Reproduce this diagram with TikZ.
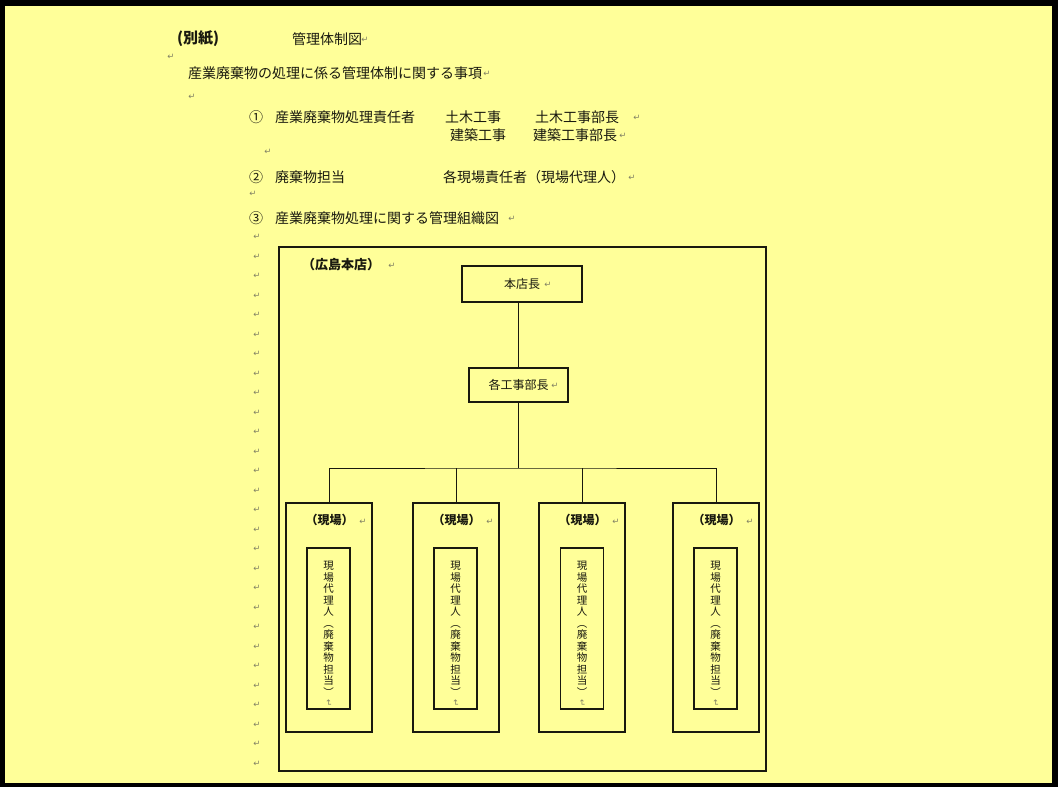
\documentclass[tikz,border=0pt]{standalone}
\usepackage{fontspec}
\setmainfont{Noto Sans CJK JP}
\newfontfamily\jp{Noto Sans CJK JP}
\newfontfamily\dv{DejaVu Sans}
\definecolor{bgyellow}{RGB}{255,255,153}
\definecolor{markgray}{RGB}{130,130,100}
\definecolor{ink}{RGB}{25,25,15}
\begin{document}
\begin{tikzpicture}[x=1pt,y=-1pt,
  txt/.style={inner sep=0pt, anchor=west, text=ink, font=\jp\fontsize{14}{16}\selectfont},
  btxt/.style={inner sep=0pt, anchor=west, text=ink, font=\jp\bfseries\fontsize{13}{15}\selectfont},
  ret/.style={inner sep=0pt, text=markgray, font=\dv\fontsize{8.5}{9}\selectfont},
  lbox/.style={draw=ink, line width=1.3pt, inner sep=0pt, text=ink, font=\jp\fontsize{12}{14}\selectfont},
  framebox/.style={draw=ink, line width=1.6pt, inner sep=0pt},
  sitebox/.style={draw=ink, line width=2pt, inner sep=0pt, minimum width=86pt, minimum height=229pt},
  innerbox/.style={draw=ink, line width=1.2pt, inner sep=0pt, minimum width=43pt, minimum height=161pt},
  vtext/.style={inner sep=0pt, align=center, text=ink, font=\jp\fontsize{10.5}{11.5}\selectfont},
  conn/.style={draw=ink, line width=0.9pt}]
% page and frame
\useasboundingbox (0,0) rectangle (1058,787);
\fill[black] (0,0) rectangle (1058,787);
\fill[bgyellow] (5,6) rectangle (1052,783);

% header texts
\node[btxt, font=\jp\bfseries\fontsize{15}{17}\selectfont] (betsushi) at (177,39) {(別紙)};
\node[txt] (title) at (292,39) {管理体制図};
\node[ret] (r-title) at (365,40) {↵};
\node[ret] (r-a) at (171,57) {↵};
\node[txt] (jiko) at (188,73) {産業廃棄物の処理に係る管理体制に関する事項};
\node[ret] (r-jiko) at (487,74) {↵};
\node[ret] (r-b) at (192,97) {↵};

% item 1
\node[txt] (n1) at (249,117) {①};
\node[txt] (sekinin) at (275,117) {産業廃棄物処理責任者};
\node[txt] (doboku) at (445,117) {土木工事};
\node[txt] (dobokubu) at (535,117) {土木工事部長};
\node[ret] (r-1a) at (637,118) {↵};
\node[txt] (kenchiku) at (450,135) {建築工事};
\node[txt] (kenchikubu) at (533,135) {建築工事部長};
\node[ret] (r-1b) at (623,136) {↵};
\node[ret] (r-c) at (268,152) {↵};

% item 2
\node[txt] (n2) at (249,177) {②};
\node[txt] (tanto) at (275,177) {廃棄物担当};
\node[txt] (kaku) at (443,177) {各現場責任者（現場代理人）};
\node[ret] (r-2) at (632,178) {↵};
\node[ret] (r-d) at (253,194) {↵};

% item 3
\node[txt] (n3) at (249,218) {③};
\node[txt] (soshiki) at (275,218) {産業廃棄物処理に関する管理組織図};
\node[ret] (r-3) at (512,219) {↵};

% column of paragraph marks
\foreach \k in {0,...,27} {
  \node[ret] (col\k) at (257,237+19.5*\k) {↵};
}

% organisation chart
\node[framebox, minimum width=487pt, minimum height=524pt] (honten) at (522.5,509) {};
\node[btxt] (hontenlabel) at (302,265) {（広島本店）};
\node[ret] (r-hl) at (392,266) {↵};

\node[lbox, minimum width=120pt, minimum height=36pt] (hcho) at (522,284) {本店長};
\node[ret] (r-hcho) at (548,285) {↵};
\node[lbox, minimum width=99pt, minimum height=34pt] (bucho) at (518.5,385) {各工事部長};
\node[ret] (r-bucho) at (555,386) {↵};

\foreach \i/\sx/\ix in {1/329/328.5, 2/456/455.5, 3/582/582, 4/716/715.5} {
  \node[sitebox] (site\i) at (\sx,617.5) {};
  \node[innerbox] (inner\i) at (\ix,628.5) {};
  \node[btxt, anchor=center, font=\jp\bfseries\fontsize{12}{14}\selectfont] (sl\i) at (\sx+0.5,520) {（現場）};
  \node[ret] (slr\i) at (\sx+34,522) {↵};
  \node[vtext] (vt\i) at (\ix,629) {現\\場\\代\\理\\人\\︵\\廃\\棄\\物\\担\\当\\︶};
  \node[ret, rotate=-90] (vr\i) at (\ix,703) {↵};
}

\coordinate (busy) at (0,468);
\coordinate (bus) at (bucho.south |- busy);
\draw[conn] (hcho.south -| bucho.north) -- (bucho.north);
\draw[conn] (bucho.south) -- (bus);
\draw[conn] (site1.north) |- (bus) -| (site4.north);
\draw[conn] (site2.north) -- (site2.north |- bus);
\draw[conn] (site3.north) -- (site3.north |- bus);
\end{tikzpicture}
\end{document}
